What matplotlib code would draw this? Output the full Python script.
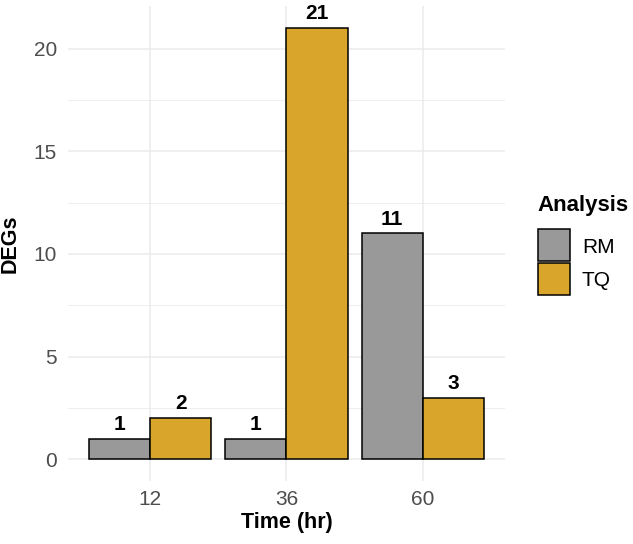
import numpy as np
import matplotlib
matplotlib.use("Agg")
import matplotlib.pyplot as plt
from matplotlib.patches import Rectangle
from matplotlib.ticker import MultipleLocator

plt.rcParams['font.family'] = ['Liberation Sans', 'DejaVu Sans']

# data
times = ['12', '36', '60']
analyses = ['RM', 'TQ']
rm_degs = [1, 1, 11]
tq_degs = [2, 21, 3]
colors = {'RM': '#999999', 'TQ': '#DAA52B'}

W, H = 633, 544
fig = plt.figure(figsize=(W / 100, H / 100), dpi=100)
ax = fig.add_axes([0.1076, 0.116, 0.690, 0.8722])

x = np.arange(len(times))
bar_width = 0.45

for i, (name, vals) in enumerate(zip(analyses, [rm_degs, tq_degs])):
    pos = x + (i - 0.5) * bar_width
    ax.bar(pos, vals, bar_width, color=colors[name], edgecolor='black',
           linewidth=1.1, label=name, zorder=3)
    for px, v in zip(pos, vals):
        ax.annotate(str(v), (px, v), xytext=(0, 3.5), textcoords='offset points',
                    ha='center', va='bottom', fontsize=15, fontweight='bold',
                    color='black', zorder=4)

ax.set_xlim(-0.6, len(times) - 0.4)
ax.set_ylim(-1.05, 22.05)
ax.set_xticks(x)
ax.set_xticklabels(times)
ax.yaxis.set_major_locator(MultipleLocator(5))
ax.yaxis.set_minor_locator(MultipleLocator(2.5))

ax.grid(which='major', axis='both', color='#EBEBEB', linewidth=1.1, zorder=0)
ax.grid(which='minor', axis='y', color='#EBEBEB', linewidth=0.6, zorder=0)
for s in ax.spines.values():
    s.set_visible(False)
ax.tick_params(which='both', length=0, labelsize=15, labelcolor='#4D4D4D')
ax.tick_params(axis='x', pad=6.5)
ax.tick_params(axis='y', pad=8)

ax.set_xlabel('Time (hr)', fontsize=15.5, fontweight='bold', labelpad=2)
ax.set_ylabel('DEGs', fontsize=15.5, fontweight='bold', labelpad=9)

# legend, ggplot style: title on top, square keys stacked
fig.text(537 / W, 1 - 206 / H, 'Analysis', fontsize=16, fontweight='bold',
         ha='left', va='center')
key = 32
for j, name in enumerate(analyses):
    top = 229 + j * (key + 2)
    fig.add_artist(Rectangle((538 / W, 1 - (top + key) / H), key / W, key / H,
                             transform=fig.transFigure, facecolor=colors[name],
                             edgecolor='black', linewidth=1.1))
    fig.text(582 / W, 1 - (top + key / 2) / H, name, fontsize=15,
             ha='left', va='center_baseline')

fig.savefig('out.png', dpi=100)
